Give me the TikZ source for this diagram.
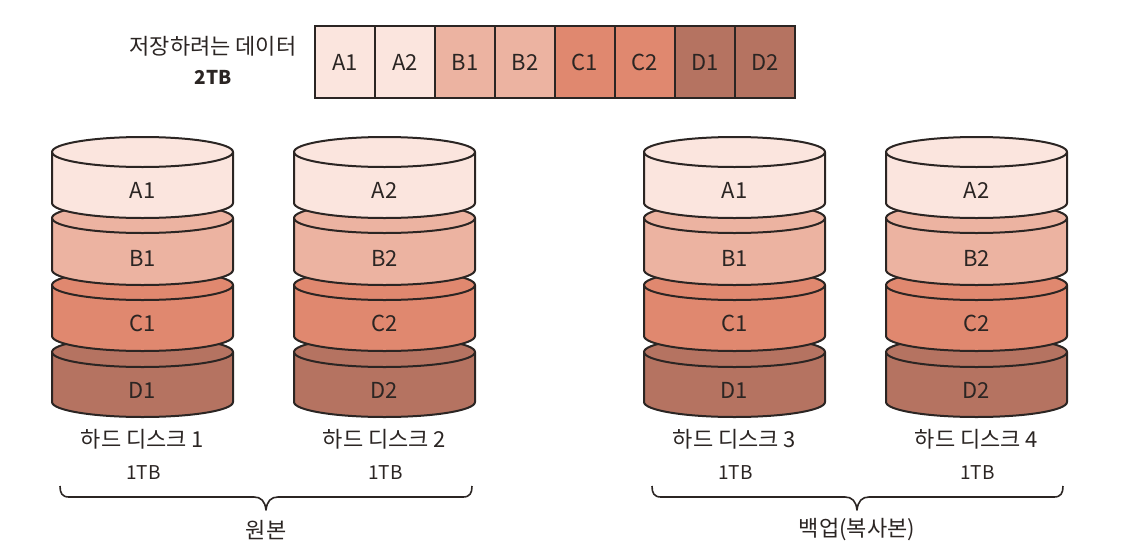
\documentclass[tikz,border=0pt]{standalone}
\usepackage{fontspec}
\setmainfont{Noto Sans CJK KR}
\definecolor{inkDark}{HTML}{2B2523}
\definecolor{fillA}{HTML}{FBE5DE}
\definecolor{fillB}{HTML}{ECB3A1}
\definecolor{fillC}{HTML}{E0886F}
\definecolor{fillD}{HTML}{B57361}
\tikzset{
  cell/.style={draw=inkDark, line width=1.3pt, minimum width=60pt, minimum height=72pt, inner sep=0pt, font=\fontsize{22}{22}\selectfont, text=inkDark},
  lay/.style={draw=inkDark, line width=2pt, line join=round},
  lbl/.style={font=\fontsize{22}{22}\selectfont, text=inkDark, inner sep=0pt},
  brace/.style={draw=inkDark, line width=1.6pt, line join=round}
}
\begin{document}
\begin{tikzpicture}[x=1pt, y=-1pt]
  \useasboundingbox (0,0) rectangle (1127,552);

  % data bar
  \node[lbl] (title) at (213,46) {저장하려는 데이터};
  \node[lbl, font=\fontsize{19}{19}\selectfont\bfseries] (total) at (213,77) {2TB};
  \foreach \nm/\col [count=\i] in {A1/fillA, A2/fillA, B1/fillB, B2/fillB, C1/fillC, C2/fillC, D1/fillD, D2/fillD}
    \node[cell, fill=\col] (bar\nm) at ({345+60*(\i-1)},62) {\nm};

  % disks
  \foreach \cx/\n/\s in {142.5/1/1, 384.5/2/2, 734.5/3/1, 976.5/4/2} {
    \foreach \ltr/\col/\ytop/\ybot/\ylab in {D/fillD/352/402/390, C/fillC/285/336/323, B/fillB/218/270/258, A/fillA/152/203/190} {
      \filldraw[lay, fill=\col] (\cx-90.5,\ytop) -- (\cx-90.5,\ybot)
        arc[start angle=180, end angle=0, x radius=90.5, y radius=15] -- (\cx+90.5,\ytop)
        arc[start angle=0, end angle=-180, x radius=90.5, y radius=15] -- cycle;
      \draw[lay] (\cx-90.5,\ytop) arc[start angle=180, end angle=0, x radius=90.5, y radius=15];
      \node[lbl] (disk\n\ltr) at (\cx,\ylab) {\ltr\s};
    }
    \node[lbl] (name\n) at (\cx,439) {하드 디스크 \n};
    \node[lbl, font=\fontsize{19}{19}\selectfont] (size\n) at (\cx+1,473) {1TB};
  }

  % groups
  \node[lbl] (orig) at (266,530) {원본};
  \node[lbl] (back) at (857,530) {백업(복사본)};
  \draw[brace] (60,486) .. controls (60,493) and (62,497) .. (69,497) -- (254,497) .. controls (261,497) and (265,501) .. (266,510) .. controls (267,501) and (271,497) .. (278,497) -- (463,497) .. controls (470,497) and (472,493) .. (472,486);
  \draw[brace] (652,486) .. controls (652,493) and (654,497) .. (661,497) -- (845,497) .. controls (852,497) and (856,501) .. (857,510) .. controls (858,501) and (862,497) .. (869,497) -- (1054,497) .. controls (1061,497) and (1063,493) .. (1063,486);
\end{tikzpicture}
\end{document}
